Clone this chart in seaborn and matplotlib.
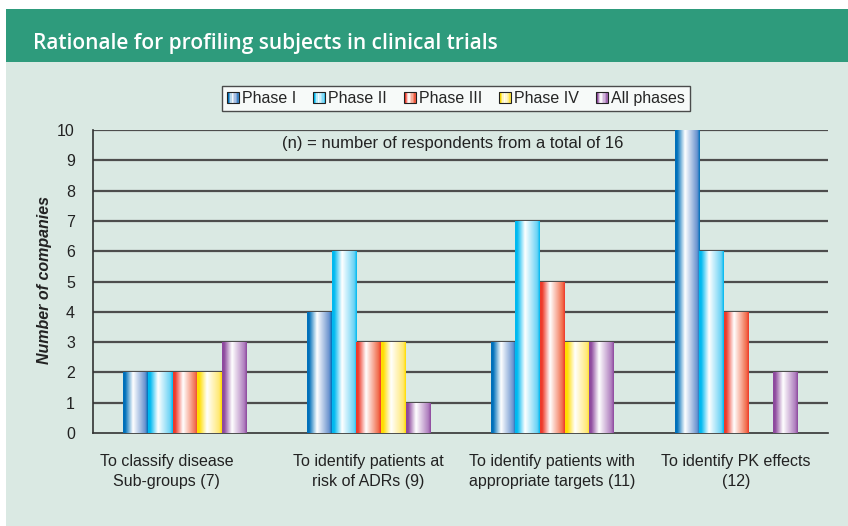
import numpy as np
import pandas as pd
import matplotlib
matplotlib.use("Agg")
import matplotlib.pyplot as plt
import matplotlib.transforms as mtransforms
from matplotlib.patches import Rectangle
from matplotlib.colors import LinearSegmentedColormap
from matplotlib.legend_handler import HandlerBase
import seaborn as sns

## Data
categories = [
    "To classify disease\nSub-groups (7)",
    "To identify patients at\nrisk of ADRs (9)",
    "To identify patients with\nappropriate targets (11)",
    "To identify PK effects\n(12)",
]
phases = ["Phase I", "Phase II", "Phase III", "Phase IV", "All phases"]
phase_1 = [2, 4, 3, 10]
phase_2 = [2, 6, 7, 6]
phase_3 = [2, 3, 5, 4]
phase_4 = [2, 3, 3, 0]
all_phases = [3, 1, 3, 2]
y_ticks = list(range(0, 11))

# base colour and lighter right-side colour for each phase
base_colors = ["#0070BA", "#00B9F0", "#EE3A2B", "#FFDD00", "#8E4A9E"]
right_colors = ["#6A93CF", "#6BD3F5", "#F2704F", "#FFE873", "#B07FBF"]

df = pd.DataFrame({
    "category": np.repeat(categories, len(phases)),
    "phase": phases * len(categories),
    "value": np.array([phase_1, phase_2, phase_3, phase_4, all_phases]).T.ravel(),
})

BG = "#DAE9E3"
TITLE_BG = "#2E9B7C"


def gradient_cmap(base, right):
    stops = [(0.0, base), (0.08, base), (0.4, "#FFFFFF"), (0.9, right), (1.0, base)]
    return LinearSegmentedColormap.from_list("g", stops)


cmaps = [gradient_cmap(b, r) for b, r in zip(base_colors, right_colors)]
grad = np.linspace(0, 1, 64).reshape(1, -1)


class GradientHandler(HandlerBase):
    def __init__(self, cmap):
        super().__init__()
        self.cmap = cmap

    def create_artists(self, legend, orig_handle, xdescent, ydescent, width, height, fontsize, trans):
        side = min(width, height)
        x0 = -xdescent + (width - side) / 2
        y0 = -ydescent + (height - side) / 2
        n = 8
        arts = []
        for i in range(n):
            arts.append(Rectangle((x0 + i * side / n, y0), side / n, side,
                                  facecolor=self.cmap((i + 0.5) / n), edgecolor="none", transform=trans))
        arts.append(Rectangle((x0, y0), side, side, facecolor="none", edgecolor="#222222", lw=0.8, transform=trans))
        return arts


sns.set_style("white")
plt.rcParams["font.family"] = ["Liberation Sans", "DejaVu Sans"]

fig = plt.figure(figsize=(8.48, 5.26), dpi=100)
fig.patch.set_facecolor("white")
# light green panel and title bar
fig.patches.append(Rectangle((6 / 848, 0), 1, 1 - 62 / 526, transform=fig.transFigure,
                             facecolor=BG, edgecolor="none", zorder=-5))
fig.patches.append(Rectangle((6 / 848, 1 - 62 / 526), 1, 53 / 526, transform=fig.transFigure,
                             facecolor=TITLE_BG, edgecolor="none", zorder=-5))
fig.text(33 / 848, 1 - 43 / 526, "Rationale for profiling subjects in clinical trials",
         color="white", fontsize=15, fontweight="semibold", va="center", ha="left",
         family=["Open Sans", "DejaVu Sans"])

ax = fig.add_axes([93 / 848, 1 - 433 / 526, 735 / 848, 303 / 526])
ax.set_facecolor(BG)

sns.barplot(data=df, x="category", y="value", hue="phase", hue_order=phases,
            palette=base_colors, width=0.67, gap=0, dodge=True, ax=ax,
            legend=False, errorbar=None, saturation=1)

for i, cont in enumerate(ax.containers):
    for bar in cont:
        h = bar.get_height()
        if h <= 0:
            bar.set_visible(False)
            continue
        x = bar.get_x()
        w = bar.get_width()
        bar.set_facecolor("none")
        bar.set_edgecolor("none")
        img = ax.imshow(grad, cmap=cmaps[i], aspect="auto", extent=(x, x + w, 0, h),
                        zorder=3, interpolation="bilinear")
        img.set_clip_path(bar)

ax.set_xlim(-0.5, 3.5)
ax.set_ylim(0, 10)
ax.set_yticks(y_ticks)
ax.set_yticklabels([str(t) for t in y_ticks], fontsize=11.5, color="#222222")
ax.set_xticks(range(len(categories)))
ax.set_xticklabels(categories, fontsize=11.5, color="#222222", linespacing=1.45)
ax.set_xticks([-0.5, 0.5, 1.5, 2.5, 3.5], minor=True)
ax.tick_params(axis="x", which="major", length=0, pad=15)
ax.tick_params(axis="x", which="minor", length=6, width=1, color="#333333", direction="out")
ax.tick_params(axis="y", length=5, width=1, color="#333333", direction="out", pad=8)

# first category label sits a little left of its group centre in the original
first = ax.get_xticklabels()[0]
first.set_transform(first.get_transform() + mtransforms.ScaledTranslation(-18 / 100, 0, fig.dpi_scale_trans))

for yv in y_ticks[1:]:
    ax.axhline(yv, color="#4d4d4d", lw=1.6, zorder=1)

sns.despine(ax=ax, top=True, right=True)
ax.spines["left"].set_color("#333333")
ax.spines["bottom"].set_color("#333333")
ax.spines["left"].set_linewidth(1.2)
ax.spines["bottom"].set_linewidth(1.2)
ax.set_xlabel("")
ax.set_ylabel("Number of companies", fontsize=11.5, fontweight="bold", style="italic",
              color="#222222")
ax.yaxis.set_label_coords(-41 / 735, 0.505)

ax.text(0.49, 0.957, "(n) = number of respondents from a total of 16", transform=ax.transAxes,
        ha="center", va="center", fontsize=12, color="#222222", zorder=4)

handles = [Rectangle((0, 0), 1, 1) for _ in phases]
leg = fig.legend(handles, phases, handler_map={h: GradientHandler(c) for h, c in zip(handles, cmaps)},
                 loc="center", bbox_to_anchor=(456 / 848, 1 - 98.5 / 526), ncol=5, frameon=True,
                 fancybox=False, fontsize=11.5, handlelength=0.75, handleheight=0.75,
                 handletextpad=0.2, columnspacing=1.05, borderpad=0.3, borderaxespad=0)
leg.get_frame().set_edgecolor("#222222")
leg.get_frame().set_facecolor("white")
leg.get_frame().set_linewidth(1.0)

fig.savefig("out.png", dpi=100, facecolor=fig.get_facecolor())
